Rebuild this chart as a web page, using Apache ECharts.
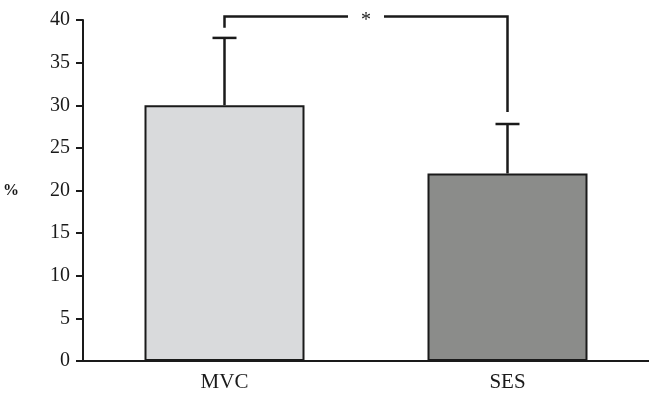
<!DOCTYPE html>
<html><head><meta charset="utf-8">
<script src="https://cdn.jsdelivr.net/npm/echarts@6/dist/echarts.min.js"></script>
<style>html,body{margin:0;padding:0;background:#fff}#c{width:649px;height:395px}</style>
</head><body><div id="c"></div>
<script>
var categories = ['MVC', 'SES'];
var means = [30, 22];
var errTops = [37.9, 27.8];
var barColors = ['#d9dadc', '#8b8c8a'];
var yTicks = [0, 5, 10, 15, 20, 25, 30, 35, 40];
var bracketTop = 40.4;
var bracketLegs = [39.1, 29.2];
var sigLabel = '*';
var yName = '%';

var chart = echarts.init(document.getElementById('c'));
var font = 'Liberation Serif';
chart.setOption({
  animation: false,
  grid: {left: 80, right: 0, top: 20, bottom: 34},
  xAxis: {
    type: 'category', data: categories,
    axisLine: {lineStyle: {color: '#1a1a1a', width: 2}},
    axisTick: {length: 6, lineStyle: {color: '#1a1a1a', width: 2}},
    axisLabel: {color: '#1a1a1a', fontFamily: font, fontSize: 21, margin: 11}
  },
  yAxis: {
    type: 'value', min: 0, max: 40, interval: 5,
    name: yName, nameLocation: 'middle', nameRotate: 0, nameGap: 64,
    nameTextStyle: {color: '#1a1a1a', fontFamily: font, fontSize: 16, fontWeight: 'bold'},
    axisLine: {show: true, lineStyle: {color: '#1a1a1a', width: 2}},
    axisTick: {show: true, length: 7, lineStyle: {color: '#1a1a1a', width: 2}},
    axisLabel: {color: '#1a1a1a', fontFamily: font, fontSize: 20, margin: 13,
      formatter: function (v) { return yTicks.indexOf(v) >= 0 ? String(v) : ''; }},
    splitLine: {show: false}
  },
  series: [
    {
      type: 'bar', barWidth: 160, z: 2,
      data: means.map(function (v, i) {
        return {value: v, itemStyle: {color: barColors[i], borderColor: '#1a1a1a', borderWidth: 2}};
      })
    },
    {
      type: 'custom', z: 1, clip: false,
      data: means.map(function (v, i) { return [i, v, errTops[i]]; }),
      renderItem: function (params, api) {
        var lo = api.coord([api.value(0), api.value(1)]);
        var hi = api.coord([api.value(0), api.value(2)]);
        var s = {stroke: '#1a1a1a', lineWidth: 2.5, fill: 'none'};
        return {type: 'group', children: [
          {type: 'line', shape: {x1: lo[0], y1: lo[1], x2: hi[0], y2: hi[1]}, style: s},
          {type: 'line', shape: {x1: hi[0] - 12, y1: hi[1], x2: hi[0] + 12, y2: hi[1]}, style: s}
        ]};
      }
    },
    {
      type: 'custom', z: 3, clip: false,
      data: [[0, 1, bracketTop]],
      renderItem: function (params, api) {
        var l = api.coord([0, bracketTop]);
        var r = api.coord([1, bracketTop]);
        var ll = api.coord([0, bracketLegs[0]]);
        var rl = api.coord([1, bracketLegs[1]]);
        var mid = (l[0] + r[0]) / 2;
        var s = {stroke: '#1a1a1a', lineWidth: 2.5, fill: 'none'};
        return {type: 'group', children: [
          {type: 'polyline', shape: {points: [[ll[0], ll[1]], [l[0], l[1]], [mid - 18, l[1]]]}, style: s},
          {type: 'polyline', shape: {points: [[mid + 18, r[1]], [r[0], r[1]], [rl[0], rl[1]]]}, style: s},
          {type: 'text', style: {text: sigLabel, x: mid, y: l[1] + 4, align: 'center', verticalAlign: 'middle',
            font: '20px "Liberation Serif"', fill: '#1a1a1a'}}
        ]};
      }
    }
  ]
});
</script></body></html>
